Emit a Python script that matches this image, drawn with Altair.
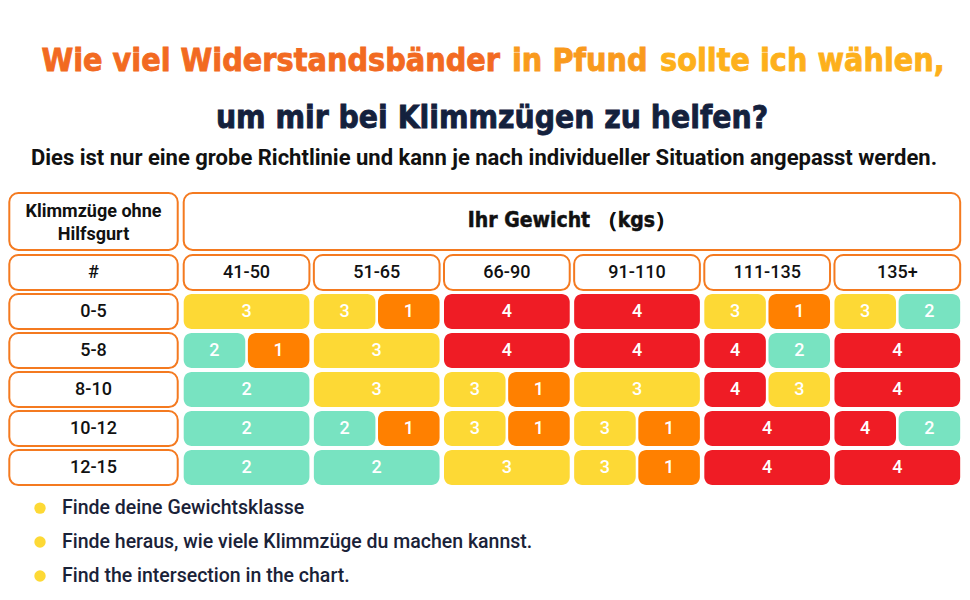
import altair as alt
import pandas as pd

# ---------------- data ----------------
weights = ["41-50", "51-65", "66-90", "91-110", "111-135", "135+"]
pullups = ["0-5", "5-8", "8-10", "10-12", "12-15"]
# band (resistance level) recommendations per row (pull-ups) and column (weight)
bands = [
    [[3], [3, 1], [4], [4], [3, 1], [3, 2]],
    [[2, 1], [3], [4], [4], [4, 2], [4]],
    [[2], [3], [3, 1], [3], [4, 3], [4]],
    [[2], [2, 1], [3, 1], [3, 1], [4], [4, 2]],
    [[2], [2], [3], [3, 1], [4], [4]],
]
band_levels = [1, 2, 3, 4]
band_colors = ["#FF8000", "#78E3C1", "#FDD935", "#EF1C25"]

corner_header = ["Klimmzüge ohne", "Hilfsgurt"]
weight_header = "Ihr Gewicht （kgs）"
hash_label = "#"
title_parts = ["Wie viel Widerstandsbänder", "in Pfund", "sollte ich wählen,"]
title_colors = ["#F26A21", "#F99A1D", "#FDB01B"]
title_line2 = "um mir bei Klimmzügen zu helfen?"
subtitle = "Dies ist nur eine grobe Richtlinie und kann je nach individueller Situation angepasst werden."
steps = [
    "Finde deine Gewichtsklasse",
    "Finde heraus, wie viele Klimmzüge du machen kannst.",
    "Find the intersection in the chart.",
]

# ---------------- layout constants (in table units) ----------------
CELL_W = 0.966
GAP = 0.02
ROW_H = 0.9
LABEL_X0, LABEL_X1 = -1.34, -0.046
HEAD_Y0, HEAD_Y1 = -2.59, -1.13
HASH_Y0 = -1.0

ORANGE_LINE = "#F47A20"
NAVY = "#14213D"
NARROW = "Liberation Sans Narrow, DejaVu Sans Condensed, Roboto Condensed, sans-serif"

# ---------------- build tables ----------------
seg_rows = []
for r, row in enumerate(bands):
    for c, cell in enumerate(row):
        n = len(cell)
        w = (CELL_W - (n - 1) * GAP) / n
        for k, b in enumerate(cell):
            x0 = c + k * (w + GAP)
            seg_rows.append(dict(x=x0, x2=x0 + w, y=r, y2=r + ROW_H,
                                 xc=x0 + w / 2, yc=r + ROW_H / 2, band=b, label=str(b)))
segs = pd.DataFrame(seg_rows)

box_rows = [dict(x=LABEL_X0, x2=LABEL_X1, y=HEAD_Y0, y2=HEAD_Y1),
            dict(x=0, x2=5 + CELL_W, y=HEAD_Y0, y2=HEAD_Y1),
            dict(x=LABEL_X0, x2=LABEL_X1, y=HASH_Y0, y2=HASH_Y0 + ROW_H)]
for c in range(len(weights)):
    box_rows.append(dict(x=c, x2=c + CELL_W, y=HASH_Y0, y2=HASH_Y0 + ROW_H))
for r in range(len(pullups)):
    box_rows.append(dict(x=LABEL_X0, x2=LABEL_X1, y=r, y2=r + ROW_H))
boxes = pd.DataFrame(box_rows)

lbl_rows = [dict(xc=(LABEL_X0 + LABEL_X1) / 2, yc=HASH_Y0 + ROW_H / 2, t=hash_label)]
for c, w in enumerate(weights):
    lbl_rows.append(dict(xc=c + CELL_W / 2, yc=HASH_Y0 + ROW_H / 2, t=w))
for r, p in enumerate(pullups):
    lbl_rows.append(dict(xc=(LABEL_X0 + LABEL_X1) / 2, yc=r + ROW_H / 2, t=p))
labels = pd.DataFrame(lbl_rows)

corner = pd.DataFrame(dict(xc=[(LABEL_X0 + LABEL_X1) / 2] * 2, yc=[-2.10, -1.51], t=corner_header))
whead = pd.DataFrame([dict(xc=(5 + CELL_W) / 2, yc=(HEAD_Y0 + HEAD_Y1) / 2, t=weight_header)])

step_df = pd.DataFrame(dict(t=steps, y=[5.49 + 0.87 * i for i in range(len(steps))]))

xs = alt.Scale(domain=[-1.35, 5.98], nice=False, zero=False)
ys = alt.Scale(domain=[-7.333, 7.641], nice=False, zero=False, reverse=True)
X = lambda f: alt.X(f, type="quantitative", scale=xs, axis=None)
Y = lambda f: alt.Y(f, type="quantitative", scale=ys, axis=None)

box_layer = alt.Chart(boxes).mark_rect(
    fill="white", stroke=ORANGE_LINE, strokeWidth=2, cornerRadius=9
).encode(x=X("x"), x2="x2", y=Y("y"), y2="y2")

seg_layer = alt.Chart(segs).mark_rect(cornerRadius=8).encode(
    x=X("x"), x2="x2", y=Y("y"), y2="y2",
    color=alt.Color("band:O", scale=alt.Scale(domain=band_levels, range=band_colors), legend=None),
)
seg_text = alt.Chart(segs).mark_text(
    color="white", font="Roboto", fontWeight=500, fontSize=18, baseline="middle"
).encode(x=X("xc"), y=Y("yc"), text="label:N")

lbl_layer = alt.Chart(labels).mark_text(
    color="#111111", font="Roboto", fontWeight=500, fontSize=18, baseline="middle"
).encode(x=X("xc"), y=Y("yc"), text="t:N")

corner_layer = alt.Chart(corner).mark_text(
    color="#111111", font="Roboto", fontWeight="bold", fontSize=18, baseline="middle"
).encode(x=X("xc"), y=Y("yc"), text="t:N")

whead_layer = alt.Chart(whead).mark_text(
    color="#111111", font=NARROW, fontWeight="bold", fontSize=21, baseline="middle",
    stroke="#111111", strokeWidth=0.5
).encode(x=X("xc"), y=Y("yc"), text="t:N")

# titles
t1 = pd.DataFrame(dict(t=title_parts, c=title_colors, px=[492, 504, 652], al=["right", "left", "left"]))
title_layers = []
for i in range(len(title_parts)):
    title_layers.append(
        alt.Chart(t1.iloc[[i]]).mark_text(
            font=NARROW, fontWeight="bold", fontSize=32, baseline="alphabetic",
            align=t1["al"][i], color=t1["c"][i], stroke=t1["c"][i], strokeWidth=0.8
        ).encode(x=alt.value(float(t1["px"][i])), y=alt.value(63), text="t:N")
    )
t2 = alt.Chart(pd.DataFrame(dict(t=[title_line2]))).mark_text(
    font=NARROW, fontWeight="bold", fontSize=31.5, baseline="alphabetic", align="center", color=NAVY,
    stroke=NAVY, strokeWidth=0.8
).encode(x=alt.value(484), y=alt.value(120), text="t:N")
sub = alt.Chart(pd.DataFrame(dict(t=[subtitle]))).mark_text(
    font="Roboto", fontWeight="bold", fontSize=22, baseline="alphabetic", align="center", color="#111111"
).encode(x=alt.value(476), y=alt.value(157), text="t:N")

dots = alt.Chart(step_df).mark_circle(size=130, color="#FDD935", opacity=1).encode(
    x=alt.value(32), y=Y("y")
)
step_text = alt.Chart(step_df).mark_text(
    font="Roboto", fontWeight=500, fontSize=19.5, align="left", baseline="middle", color="#1A2238"
).encode(x=alt.value(54), y=Y("y"), text="t:N")

chart = alt.layer(
    box_layer, seg_layer, seg_text, lbl_layer, corner_layer, whead_layer,
    *title_layers, t2, sub, dots, step_text
).properties(width=954, height=584, padding=0, autosize="none", background="white"
).configure_view(stroke=None)

chart.save("out.html", embed_options={"renderer": "svg", "actions": False})
